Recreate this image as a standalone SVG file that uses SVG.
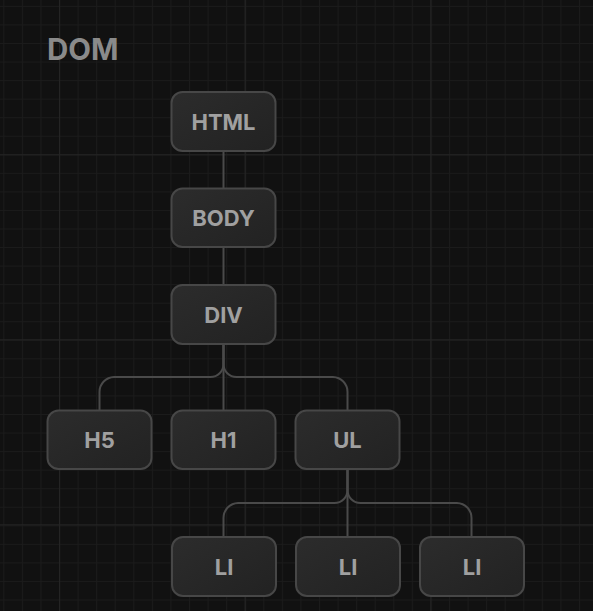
<svg xmlns="http://www.w3.org/2000/svg" width="593" height="611" viewBox="0 0 593 611">
  <defs>
    <pattern id="minor" x="3.3" y="5.9" width="18.57" height="18.55" patternUnits="userSpaceOnUse">
      <path d="M0.5 0 V18.55 M0 0.5 H18.57" stroke="#1b1b1b" stroke-width="1" fill="none"/>
    </pattern>
    <pattern id="major" x="59" y="154.3" width="185.7" height="185" patternUnits="userSpaceOnUse">
      <path d="M0.5 0 V185 M0 0.5 H185.7" stroke="#242424" stroke-width="1.2" fill="none"/>
    </pattern>
    <linearGradient id="nodeFill" x1="0" y1="0" x2="1" y2="1">
      <stop offset="0" stop-color="#2c2c2c"/>
      <stop offset="1" stop-color="#222222"/>
    </linearGradient>
    <style>
      .node rect { fill: url(#nodeFill); stroke: #474747; stroke-width: 2; }
      .node text { font-family: Inter, "Liberation Sans", sans-serif; font-weight: 700; font-size: 22px; fill: #a0a0a0; text-anchor: middle; }
      .conn { fill: none; stroke: #4a4a4a; stroke-width: 2; }
      .title { font-family: Inter, "Liberation Sans", sans-serif; font-weight: 700; font-size: 29.5px; fill: #8a8a8a; }
    </style>
  </defs>
  <rect width="593" height="611" fill="#111111"/>
  <rect width="593" height="611" fill="url(#minor)"/>
  <rect width="593" height="611" fill="url(#major)"/>

  <text class="title" x="47" y="59.5">DOM</text>

  <g id="connectors">
    <path class="conn" d="M223.5 151 V188"/>
    <path class="conn" d="M223.5 247 V284.5"/>
    <path class="conn" d="M223.5 344 V364 A13 13 0 0 1 210.5 377 H114 A15 15 0 0 0 99.5 392 V410"/>
    <path class="conn" d="M223.5 344 V410"/>
    <path class="conn" d="M223.5 344 V364 A13 13 0 0 0 236.5 377 H333 A15 15 0 0 1 347.5 392 V410"/>
    <path class="conn" d="M347.5 469 V490 A13 13 0 0 1 334.5 503 H238 A15 15 0 0 0 223.5 518 V537"/>
    <path class="conn" d="M347.5 469 V537"/>
    <path class="conn" d="M347.5 469 V490 A13 13 0 0 0 360.5 503 H457 A15 15 0 0 1 471.5 518 V537"/>
  </g>

  <g id="node-html" class="node"><rect x="171.5" y="92" width="104" height="59" rx="11"/><text x="223.5" y="129.5">HTML</text></g>
  <g id="node-body" class="node"><rect x="171.5" y="188.5" width="104" height="58.5" rx="11"/><text x="223.5" y="225.8">BODY</text></g>
  <g id="node-div" class="node"><rect x="171.5" y="285" width="104" height="59" rx="11"/><text x="223.5" y="322.5">DIV</text></g>
  <g id="node-h5" class="node"><rect x="47.5" y="410.5" width="104" height="58.5" rx="11"/><text x="99.5" y="447.8">H5</text></g>
  <g id="node-h1" class="node"><rect x="171.5" y="410.5" width="104" height="58.5" rx="11"/><text x="223.5" y="447.8">H1</text></g>
  <g id="node-ul" class="node"><rect x="295.5" y="410.5" width="104" height="58.5" rx="11"/><text x="347.5" y="447.8">UL</text></g>
  <g id="node-li1" class="node"><rect x="172" y="537" width="104" height="59" rx="11"/><text x="224" y="574.5">LI</text></g>
  <g id="node-li2" class="node"><rect x="296" y="537" width="104" height="59" rx="11"/><text x="348" y="574.5">LI</text></g>
  <g id="node-li3" class="node"><rect x="420" y="537" width="104" height="59" rx="11"/><text x="472" y="574.5">LI</text></g>
</svg>
